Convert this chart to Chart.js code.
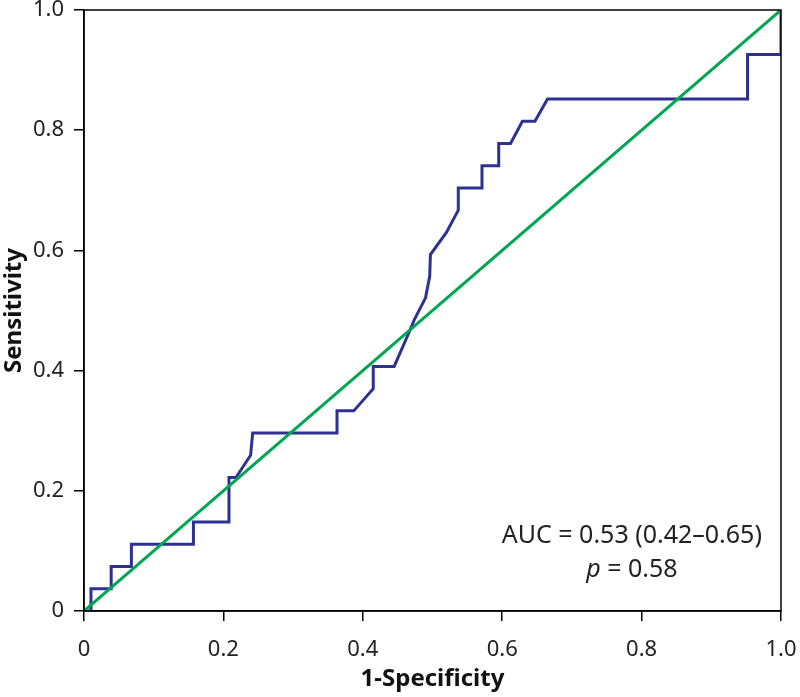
<!DOCTYPE html>
<html>
<head>
<meta charset="utf-8">
<script src="https://cdn.jsdelivr.net/npm/chart.js@4.4.1/dist/chart.umd.min.js"></script>
<style>
  html, body { margin: 0; padding: 0; background: #fff; }
  #wrap { width: 800px; height: 697px; }
</style>
</head>
<body>
<div id="wrap"><canvas id="roc"></canvas></div>
<script>
// ROC curve points
var fpr = [0, 0.010, 0.010, 0.039, 0.039, 0.068, 0.068, 0.157, 0.157, 0.208, 0.208, 0.218, 0.239, 0.242,
           0.363, 0.363, 0.387, 0.415, 0.415, 0.445, 0.468, 0.474, 0.490, 0.496, 0.497, 0.520, 0.537, 0.537,
           0.571, 0.571, 0.595, 0.595, 0.612, 0.629, 0.647, 0.665, 0.952, 0.952, 1.0, 1.0];
var tpr = [0, 0, 0.037, 0.037, 0.074, 0.074, 0.111, 0.111, 0.148, 0.148, 0.222, 0.222, 0.259, 0.296,
           0.296, 0.333, 0.333, 0.370, 0.407, 0.407, 0.468, 0.485, 0.521, 0.557, 0.593, 0.630, 0.667, 0.704,
           0.704, 0.741, 0.741, 0.778, 0.778, 0.815, 0.815, 0.852, 0.852, 0.926, 0.926, 1.0];
var refX = [0, 1];
var refY = [0, 1];
var tickVals = [0, 0.2, 0.4, 0.6, 0.8, 1.0];
var aucText = "AUC = 0.53 (0.42\u20130.65)";
var pText = "0.58";

var FONT = "'Noto Sans', 'Open Sans', sans-serif";

function pts(xs, ys) {
    var out = [];
    for (var i = 0; i < xs.length; i++) out.push({x: xs[i], y: ys[i]});
    return out;
}

// frame + annotation
var framePlugin = {
    id: 'frame',
    afterDatasetsDraw: function(chart) {
        var ctx = chart.ctx, a = chart.chartArea;
        ctx.save();
        ctx.strokeStyle = '#000';
        ctx.lineWidth = 1.5;
        ctx.strokeRect(a.left, a.top, a.right - a.left, a.bottom - a.top);

        var xs = chart.scales.x, ys = chart.scales.y;
        var cx = xs.getPixelForValue(0.786);
        ctx.fillStyle = '#222';
        ctx.textAlign = 'center';
        ctx.textBaseline = 'alphabetic';
        ctx.font = "25px " + FONT;
        ctx.fillText(aucText, cx, ys.getPixelForValue(0.113));

        var y2 = ys.getPixelForValue(0.057);
        var pPart = "p";
        var rest = " = " + pText;
        ctx.font = "italic 25px " + FONT;
        var w1 = ctx.measureText(pPart).width;
        ctx.font = "25px " + FONT;
        var w2 = ctx.measureText(rest).width;
        var start = cx - (w1 + w2) / 2;
        ctx.textAlign = 'left';
        ctx.font = "italic 25px " + FONT;
        ctx.fillText(pPart, start, y2);
        ctx.font = "25px " + FONT;
        ctx.fillText(rest, start + w1, y2);
        ctx.restore();
    }
};

var ctx = document.getElementById('roc');
var rocChart = new Chart(ctx, {
    type: 'scatter',
    data: {
        datasets: [
            {
                label: 'Reference',
                data: pts(refX, refY),
                showLine: true,
                borderColor: '#00a651',
                borderWidth: 3,
                pointRadius: 0,
                fill: false
            },
            {
                label: 'ROC',
                data: pts(fpr, tpr),
                showLine: true,
                borderColor: '#2e3192',
                borderWidth: 3,
                pointRadius: 0,
                fill: false
            }
        ]
    },
    options: {
        responsive: true,
        maintainAspectRatio: false,
        animation: false,
        layout: { padding: { top: 10, right: 19, left: 0, bottom: 0 } },
        plugins: {
            legend: { display: false },
            tooltip: { enabled: false }
        },
        scales: {
            x: {
                type: 'linear',
                min: 0, max: 1,
                afterBuildTicks: function(s) { s.ticks = tickVals.map(function(v){ return {value: v}; }); },
                afterFit: function(s) { s.height = 86; s.paddingLeft = 0; s.paddingRight = 0; },
                grid: { drawOnChartArea: false, drawTicks: true, tickLength: 10, color: '#000', lineWidth: 1.5 },
                border: { display: true, color: '#000', width: 1.5 },
                ticks: {
                    color: '#222',
                    padding: 16,
                    font: { family: FONT, size: 22 },
                    callback: function(v) { return v === 0 ? '0' : v.toFixed(1); }
                },
                title: {
                    display: true,
                    text: '1-Specificity',
                    color: '#111',
                    font: { family: FONT, size: 24, weight: 'bold' },
                    padding: { top: 0, bottom: 3 }
                }
            },
            y: {
                type: 'linear',
                min: 0, max: 1,
                afterBuildTicks: function(s) { s.ticks = tickVals.map(function(v){ return {value: v}; }); },
                afterFit: function(s) { s.width = 84; s.paddingTop = 0; s.paddingBottom = 0; },
                grid: { drawOnChartArea: false, drawTicks: true, tickLength: 10, color: '#000', lineWidth: 1.5 },
                border: { display: true, color: '#000', width: 1.5 },
                ticks: {
                    color: '#222',
                    padding: 10,
                    font: { family: FONT, size: 22 },
                    callback: function(v) { return v === 0 ? '0' : v.toFixed(1); }
                },
                title: {
                    display: true,
                    text: 'Sensitivity',
                    color: '#111',
                    font: { family: FONT, size: 24, weight: 'bold' },
                    padding: { top: 0, bottom: 0 }
                }
            }
        }
    },
    plugins: [framePlugin]
});
</script>
</body>
</html>
